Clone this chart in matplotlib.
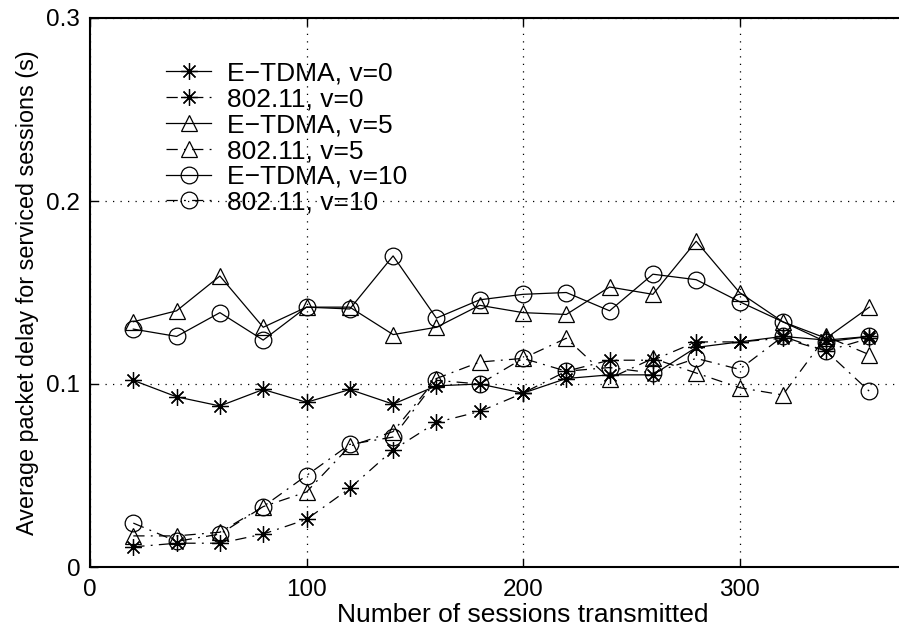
import numpy as np
import matplotlib
matplotlib.use('Agg')
import matplotlib.pyplot as plt

plt.rcParams['font.family'] = ['Liberation Sans', 'DejaVu Sans']

# 会话数
sessions = [20, 40, 60, 80, 100, 120, 140, 160, 180, 200, 220, 240, 260, 280, 300, 320, 340, 360]

# 平均包时延 (s)
etdma_v0 = [0.102, 0.093, 0.088, 0.097, 0.090, 0.097, 0.089, 0.099, 0.100, 0.095,
            0.103, 0.105, 0.105, 0.120, 0.123, 0.126, 0.124, 0.126]
w80211_v0 = [0.011, 0.013, 0.013, 0.018, 0.026, 0.043, 0.064, 0.079, 0.085, 0.095,
             0.107, 0.113, 0.113, 0.123, 0.123, 0.125, 0.118, 0.125]
etdma_v5 = [0.134, 0.140, 0.159, 0.131, 0.142, 0.142, 0.127, 0.131, 0.143, 0.139,
            0.138, 0.153, 0.149, 0.178, 0.150, 0.134, 0.125, 0.142]
w80211_v5 = [0.017, 0.017, 0.019, 0.033, 0.041, 0.066, 0.074, 0.103, 0.112, 0.114,
             0.125, 0.103, 0.114, 0.106, 0.098, 0.094, 0.126, 0.116]
etdma_v10 = [0.130, 0.126, 0.139, 0.124, 0.142, 0.141, 0.170, 0.136, 0.146, 0.149,
             0.150, 0.140, 0.160, 0.157, 0.145, 0.134, 0.123, 0.126]
w80211_v10 = [0.024, 0.014, 0.018, 0.033, 0.050, 0.067, 0.071, 0.102, 0.100, 0.114,
              0.107, 0.109, 0.106, 0.114, 0.108, 0.126, 0.118, 0.096]

labels = ['E\u2212TDMA, v=0', '802.11, v=0', 'E\u2212TDMA, v=5',
          '802.11, v=5', 'E\u2212TDMA, v=10', '802.11, v=10']

fig = plt.figure(figsize=(8.99, 6.37), dpi=100)
# 右边框在原图中被裁掉了，所以坐标轴伸出画布
ax = fig.add_axes([90/899, 70/637, 866/899, 549/637])

star = (8, 2, 0)   # MATLAB 的 '*'
ms = 12
lw = 0.9
dd = (9, 5, 1.5, 5)  # 点划线
ax.plot(sessions, etdma_v0, '-', color='k', marker=star, ms=ms, lw=lw, mew=0.9, label=labels[0])
ax.plot(sessions, w80211_v0, color='k', dashes=dd, marker=star, ms=ms, lw=lw, mew=0.9, label=labels[1])
ax.plot(sessions, etdma_v5, '-', color='k', marker='^', ms=ms, mfc='none', lw=lw, mew=0.9, label=labels[2])
ax.plot(sessions, w80211_v5, color='k', dashes=dd, marker='^', ms=ms, mfc='none', lw=lw, mew=0.9, label=labels[3])
ax.plot(sessions, etdma_v10, '-', color='k', marker='o', ms=ms, mfc='none', lw=lw, mew=0.9, label=labels[4])
ax.plot(sessions, w80211_v10, color='k', dashes=dd, marker='o', ms=ms, mfc='none', lw=lw, mew=0.9, label=labels[5])

ax.set_xlim(0, 400)
ax.set_ylim(0, 0.3)
ax.set_xticks([0, 100, 200, 300])
ax.set_yticks([0, 0.1, 0.2, 0.3])
ax.set_yticklabels(['0', '0.1', '0.2', '0.3'])
ax.tick_params(direction='in', length=6, width=1, labelsize=17.5, top=True, right=True, pad=7)
ax.tick_params(axis='x', pad=9)
ax.grid(True, linestyle=(0, (1, 5)), color='k', linewidth=0.9)
for s in ax.spines.values():
    s.set_linewidth(1.5)

ax.set_xlabel('Number of sessions transmitted', fontsize=19, labelpad=1)
ax.set_ylabel('Average packet delay for serviced sessions (s)', fontsize=16.8, labelpad=5)

ax.legend(loc='upper left', bbox_to_anchor=(0.076, 0.94), frameon=False, fontsize=19,
          handlelength=1.7, handletextpad=0.6, labelspacing=0.07, borderaxespad=0)

plt.savefig('out.png', dpi=100)
